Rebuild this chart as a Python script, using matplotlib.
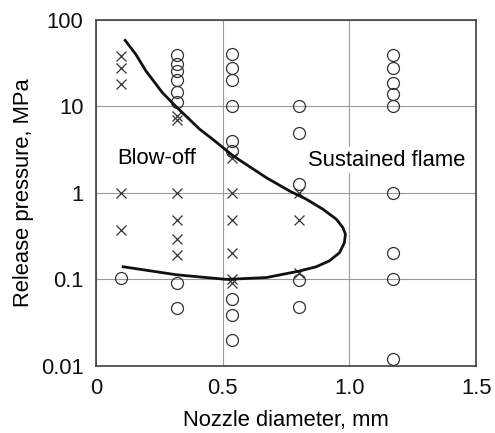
import matplotlib
matplotlib.use("Agg")
import matplotlib.pyplot as plt

plt.rcParams["font.family"] = ["Liberation Sans", "DejaVu Sans"]

# sustained flame (open circles)
flame_x = [0.1,
           0.32, 0.32, 0.32, 0.32, 0.32, 0.32, 0.32, 0.32,
           0.535, 0.535, 0.535, 0.535, 0.535, 0.535, 0.535, 0.535, 0.535,
           0.8, 0.8, 0.8, 0.8, 0.8,
           1.17, 1.17, 1.17, 1.17, 1.17, 1.17, 1.17, 1.17, 1.17]
flame_y = [0.105,
           39, 31, 25.7, 20, 14.7, 11.3, 0.09, 0.047,
           40, 28, 20, 10, 4.0, 3.06, 0.06, 0.039, 0.02,
           10, 4.9, 1.27, 0.098, 0.048,
           39, 28, 18.7, 14, 10, 1.0, 0.2, 0.1, 0.012]

# blow-off (crosses)
blow_x = [0.1, 0.1, 0.1, 0.1, 0.1,
          0.32, 0.32, 0.32, 0.32, 0.32, 0.32,
          0.535, 0.535, 0.535, 0.535, 0.535, 0.535,
          0.8, 0.8, 0.8]
blow_y = [38, 28, 18, 1.0, 0.37,
          7.8, 7.0, 1.0, 0.49, 0.29, 0.19,
          2.5, 1.0, 0.49, 0.2, 0.1, 0.09,
          1.0, 0.49, 0.12]

# stability boundary
curve_x = [0.115, 0.157, 0.197, 0.262, 0.315, 0.409, 0.459, 0.541, 0.672,
           0.764, 0.83, 0.895, 0.948, 0.974, 0.984, 0.98, 0.961, 0.921,
           0.869, 0.803, 0.672, 0.515, 0.318, 0.107]
curve_y = [58, 40, 25.7, 14.4, 10, 5.45, 4.2, 2.68, 1.5,
           1.05, 0.845, 0.648, 0.497, 0.397, 0.333, 0.266, 0.204, 0.164,
           0.14, 0.125, 0.105, 0.1, 0.113, 0.14]

fs = 15.8

fig = plt.figure(figsize=(4.95, 4.33), dpi=100)
ax = fig.add_axes([0.194, 0.155, 0.768, 0.799])

ax.plot(flame_x, flame_y, "o", ms=8.6, mfc="none", mec="#333333", mew=0.9, zorder=3)
ax.plot(blow_x, blow_y, "x", ms=7.5, mec="#333333", mew=0.9, zorder=3)
ax.plot(curve_x, curve_y, "-", color="#111111", lw=2.0, zorder=4,
        solid_joinstyle="round")

ax.text(0.24, 2.5, "Blow-off", fontsize=fs, ha="center", va="center", zorder=2,
        bbox=dict(fc="white", ec="none", pad=2))
ax.text(1.146, 2.4, "Sustained flame", fontsize=fs, ha="center", va="center", zorder=2,
        bbox=dict(fc="white", ec="none", pad=2))

ax.set_yscale("log")
ax.set_xlim(0, 1.5)
ax.set_ylim(0.01, 100)
ax.set_xticks([0, 0.5, 1.0, 1.5])
ax.set_xticklabels(["0", "0.5", "1.0", "1.5"])
ax.set_yticks([0.01, 0.1, 1, 10, 100])
ax.set_yticklabels(["0.01", "0.1", "1", "10", "100"])
ax.minorticks_off()
ax.tick_params(length=0, labelsize=fs, colors="#111111", pad=9)
ax.grid(True, color="#9a9a9a", lw=0.8, zorder=0)
ax.set_axisbelow(True)
for s in ax.spines.values():
    s.set_color("#404040")
    s.set_linewidth(1.2)

ax.set_xlabel("Nozzle diameter, mm", fontsize=fs, labelpad=8)
ax.set_ylabel("Release pressure, MPa", fontsize=fs, labelpad=5)

fig.savefig("out.png", dpi=100)
